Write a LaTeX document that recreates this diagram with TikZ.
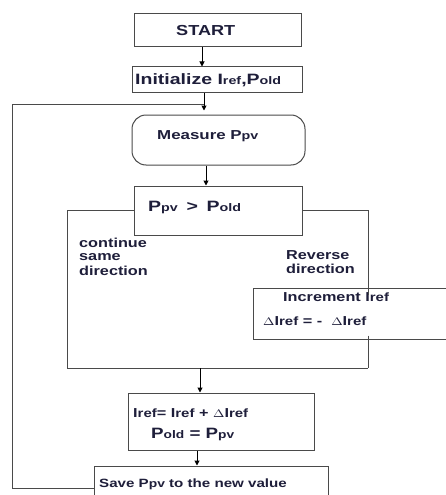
\documentclass[tikz,border=0pt]{standalone}
\usepackage{fontspec}
\setmainfont{Liberation Sans}
\usepackage{graphicx}
\usetikzlibrary{arrows.meta}
\definecolor{ink}{HTML}{1E1E3A}
\definecolor{lnc}{HTML}{4A4A4A}
\newcommand{\tx}[3][1.3]{\scalebox{#1}[1]{\fontsize{#2}{#2}\selectfont\bfseries #3}}
\newcommand{\lo}[2]{{\fontsize{#1}{#1}\selectfont #2}}
\begin{document}
\begin{tikzpicture}[x=1pt,y=-1pt,
  box/.style={draw=lnc, line width=1pt, inner sep=0pt},
  wire/.style={draw=lnc, line width=1pt},
  arr/.style={draw=black, line width=1pt, -{Triangle[length=5pt,width=5pt]}},
  lab/.style={text=ink, inner sep=0pt, anchor=west}]
\clip (0,0) rectangle (446,495);
\fill[white] (0,0) rectangle (446,495);
% boxes
\node[box, minimum width=167pt, minimum height=33pt] (start) at (217.5,30.5) {};
\node[box, minimum width=170pt, minimum height=25pt] (init) at (217,79.5) {};
\node[box, rounded corners=14pt, minimum width=173pt, minimum height=50pt] (meas) at (218.5,140) {};
\node[box, minimum width=168pt, minimum height=49pt] (dec) at (218,210.5) {};
\node[box, minimum width=207pt, minimum height=51pt] (inc) at (356.5,313.5) {};
\node[box, minimum width=186pt, minimum height=57pt] (iref) at (221,421.5) {};
\node[box, minimum width=234pt, minimum height=44pt] (save) at (211,488) {};
% texts
\node[lab] (tstart) at (176,31) {\tx[1.25]{14.5}{START}};
\node[lab] (tinit) at (135,80) {\tx[1.3]{15}{Initialize I\lo{11}{ref},P\lo{11}{old}}};
\node[lab] (tmeas) at (157,136) {\tx[1.3]{13}{Measure P\lo{11}{pv}}};
\node[lab] (tdec) at (148,207) {\tx[1.3]{15}{P\lo{11}{pv} \,>\, P\lo{11}{old}}};
\node[lab] (tc1) at (79,243) {\tx[1.25]{13}{continue}};
\node[lab] (tc2) at (79,257) {\tx[1.25]{13}{same}};
\node[lab] (tc3) at (79,271) {\tx[1.25]{13}{direction}};
\node[lab] (tr1) at (286,255) {\tx[1.25]{13}{Reverse}};
\node[lab] (tr2) at (286,269) {\tx[1.25]{13}{direction}};
\node[lab] (ti1) at (283,297) {\tx[1.25]{13}{Increment I\lo{12}{ref}}};
\node[lab] (ti2) at (263,321) {\tx[1.25]{13}{\lo{11}{$\Delta$}I\lo{12}{ref} = -\; \lo{11}{$\Delta$}I\lo{12}{ref}}};
\node[lab] (tu1) at (133,413) {\tx[1.25]{13}{I\lo{12}{ref}= I\lo{12}{ref} + \lo{11}{$\Delta$}I\lo{12}{ref}}};
\node[lab] (tu2) at (151,434) {\tx[1.25]{15}{P\lo{11}{old} = P\lo{11}{pv}}};
\node[lab] (ts) at (99,484) {\tx[1.26]{12}{Save P\lo{11}{pv} to the new value}};
% helper coordinates
\coordinate (a1) at ([xshift=-13pt]init.south);
\coordinate (fbc) at (12,104);
\coordinate (L) at (67,368);
\coordinate (R) at (368,368);
\coordinate (M) at (200,368);
% connectors
\draw[arr] ([xshift=-15.5pt]start.south) -- ([xshift=-15.5pt]start.south |- init.north);
\draw[arr, shorten >=4pt] (a1) -- (a1 |- meas.north);
\draw[wire] (save.west) -| (fbc) -- (fbc -| a1);
\draw[arr] ([xshift=-12.5pt]meas.south) -- ([xshift=-12.5pt]meas.south |- dec.north);
\draw[wire] (dec.west) -| (L) -- (R);
\draw[wire] (dec.east) -| ([yshift=-7pt]R |- inc.north);
\draw[wire] ([yshift=4pt]R |- inc.south) -- (R);
\draw[arr] (M) -- (M |- iref.north);
\draw[arr] ([xshift=-24pt]iref.south) -- ([xshift=-24pt]iref.south |- save.north);
\end{tikzpicture}
\end{document}
